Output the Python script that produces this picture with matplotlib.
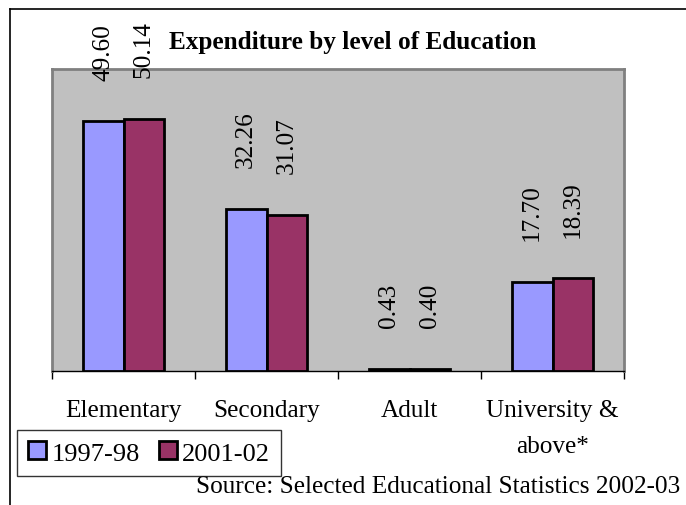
import matplotlib
matplotlib.use("Agg")
import matplotlib.pyplot as plt
from matplotlib.patches import Patch
from matplotlib.lines import Line2D
import numpy as np

categories = ["Elementary", "Secondary", "Adult", "University &\nabove*"]
series_names = ["1997-98", "2001-02"]
values_1997 = [49.60, 32.26, 0.43, 17.70]
values_2001 = [50.14, 31.07, 0.40, 18.39]
title = "Expenditure by level of Education"
source = "Source: Selected Educational Statistics 2002-03"

colors = ["#9999FF", "#993366"]
FS = 18.2
plt.rcParams['font.family'] = ['Liberation Serif', 'DejaVu Serif']

W, H = 686, 506
fig = plt.figure(figsize=(W / 100, H / 100), dpi=100)
ax = fig.add_axes([52 / W, 1 - 372 / H, 572 / W, 302 / H])
ax.set_facecolor("#C0C0C0")

x = np.arange(len(categories))
bw = 1 / 3.5
for i, (vals, col) in enumerate(zip([values_1997, values_2001], colors)):
    pos = x + (i - 0.5) * bw
    bars = ax.bar(pos, vals, width=bw, color=col, edgecolor="black", linewidth=2, zorder=3)
    for b, v in zip(bars, vals):
        ax.annotate(f"{v:.2f}", (b.get_x() + b.get_width() / 2, b.get_height()),
                    xytext=(0, 30), textcoords="offset points", rotation=90,
                    ha="center", va="bottom", fontsize=FS, clip_on=False)

ax.set_xlim(-0.5, len(categories) - 0.5)
ax.set_ylim(0, 60)
ax.set_yticks([])
ax.set_xticks(x)
ax.set_xticklabels(categories, fontsize=FS, linespacing=1.82)
ax.tick_params(axis="x", which="major", length=0, pad=20)
ax.set_xticks(np.arange(-0.5, len(categories)), minor=True)
ax.tick_params(axis="x", which="minor", length=6, width=1, direction="out", color="black")
for s in ["left", "right", "top"]:
    ax.spines[s].set_color("#808080")
    ax.spines[s].set_linewidth(2)
ax.spines["bottom"].set_color("black")
ax.spines["bottom"].set_linewidth(1)

fig.text(353 / W, 1 - 42 / H, title, fontsize=FS, fontweight="bold", ha="center", va="center")
fig.text(680 / W, 1 - 487 / H, source, fontsize=FS, ha="right", va="center")

handles = [Patch(facecolor=c, edgecolor="black", linewidth=2) for c in colors]
leg = fig.legend(handles, series_names, loc="upper left",
                 bbox_to_anchor=(17 / W, 1 - 431 / H), ncol=2, fontsize=19,
                 frameon=True, fancybox=False, edgecolor="black", borderaxespad=0,
                 handlelength=0.68, handleheight=0.68, handletextpad=0.19,
                 columnspacing=0.72, borderpad=0.43)
leg.get_frame().set_linewidth(1)

fig.add_artist(Line2D([10 / W, 10 / W], [0, 1 - 10 / H], color="black", lw=1.2))
fig.add_artist(Line2D([10 / W, 1], [1 - 10 / H, 1 - 10 / H], color="black", lw=1.2))

fig.savefig("out.png", dpi=100)
